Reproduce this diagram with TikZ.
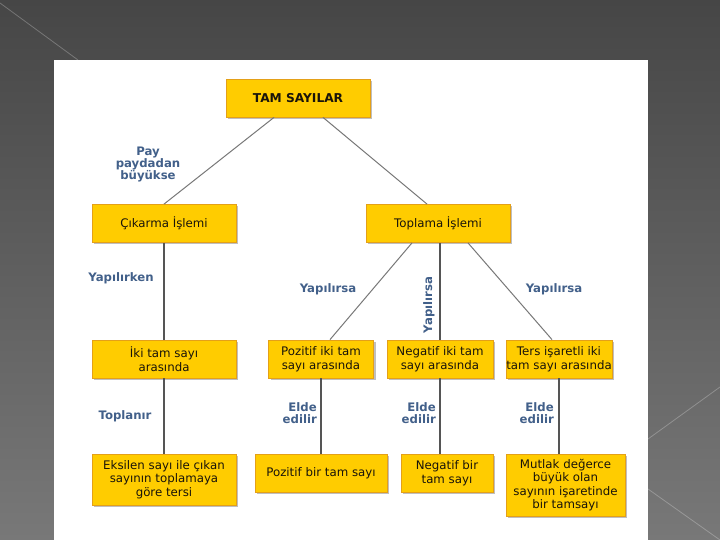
\documentclass[tikz,border=0pt]{standalone}
\usepackage{fontspec}
\setmainfont{DejaVu Sans}
\usetikzlibrary{shadows}
\definecolor{boxfill}{RGB}{255,204,0}
\definecolor{boxdraw}{RGB}{228,160,24}
\definecolor{boxtext}{RGB}{25,20,10}
\definecolor{lblcol}{RGB}{66,96,138}
\definecolor{linecol}{RGB}{85,85,85}
\definecolor{diagcol}{RGB}{120,120,120}
\definecolor{bgtop}{RGB}{70,70,70}
\definecolor{bgbot}{RGB}{120,120,120}
\begin{document}
\begin{tikzpicture}[x=1bp,y=-1bp,
  box/.style={draw=boxdraw, fill=boxfill, line width=0.8bp, inner sep=0pt, align=center,
    text=boxtext, font=\fontsize{11.8bp}{13.6bp}\selectfont,
    drop shadow={shadow xshift=2bp, shadow yshift=-2bp, fill=black, opacity=0.25}},
  lbl/.style={text=lblcol, font=\fontsize{11.7bp}{12bp}\bfseries\selectfont, align=center, inner sep=0pt},
  conn/.style={draw=linecol, line width=1.4bp},
  diag/.style={draw=diagcol, line width=1bp}]
\useasboundingbox (0,0) rectangle (720,540);
% background
\shade[top color=bgtop, bottom color=bgbot] (0,0) rectangle (720,540);
\draw[white, opacity=0.25, line width=0.8bp] (0,3) -- (78,60);
\draw[white, opacity=0.25, line width=0.8bp] (720,387) -- (648,439);
\draw[white, opacity=0.25, line width=0.8bp] (648,489) -- (720,540);
\fill[white] (54,60) rectangle (648,540);

% boxes
\node[box, minimum width=144bp, minimum height=38bp, font=\fontsize{12.2bp}{14bp}\bfseries\selectfont] (tam) at (298,98) {TAM SAYILAR};
\node[box, minimum width=144bp, minimum height=38bp] (cik) at (164,223.5) {Çıkarma İşlemi};
\node[box, minimum width=144bp, minimum height=38bp] (top) at (438,223.5) {Toplama İşlemi};

\node[box, minimum width=144bp, minimum height=38bp] (iki) at (164,359) {İki tam sayı\\arasında};
\node[box, minimum width=105bp, minimum height=38bp] (pozi) at (321,359) {Pozitif iki tam\\sayı arasında};
\node[box, minimum width=106bp, minimum height=38bp] (negi) at (440,359) {Negatif iki tam\\sayı arasında};
\node[box, minimum width=106bp, minimum height=38bp] (ters) at (559,359) {\makebox[0pt][c]{Ters işaretli iki}\\\makebox[0pt][c]{tam sayı arasında}};

\node[box, minimum width=144bp, minimum height=51bp] (eks) at (164,479.5) {Eksilen sayı ile çıkan\\sayının toplamaya\\göre tersi};
\node[box, minimum width=132bp, minimum height=38bp] (pozb) at (321,473) {Pozitif bir tam sayı};
\node[box, minimum width=92bp, minimum height=38bp] (negb) at (447,473) {Negatif bir\\tam sayı};
\node[box, minimum width=119bp, minimum height=62bp] (mut) at (565.5,485) {Mutlak değerce\\büyük olan\\sayının işaretinde\\bir tamsayı};

% connectors
\draw[diag] ([xshift=-24bp]tam.south) -- (cik.north);
\draw[diag] ([xshift=25bp]tam.south) -- ([xshift=-11bp]top.north);
\draw[conn] (cik.south) -- (iki.north);
\draw[conn] (iki.south) -- (eks.north);
\draw[diag] ([xshift=-26bp]top.south) -- ([xshift=9bp]pozi.north);
\draw[conn] (negi.north) -- (negi.north |- top.south);
\draw[diag] ([xshift=30bp]top.south) -- ([xshift=-7bp]ters.north);
\draw[conn] (pozi.south) -- (pozb.north);
\draw[conn] (negi.south) -- (negi.south |- negb.north);
\draw[conn] (ters.south) -- (ters.south |- mut.north);

% labels
\node[lbl] (pay) at (148,164) {Pay\\paydadan\\büyükse};
\node[lbl] (yk) at (121,278) {Yapılırken};
\node[lbl] (yl) at (328,289) {Yapılırsa};
\node[lbl, rotate=90] (ym) at (429,305) {Yapılırsa};
\node[lbl] (yr) at (554,289) {Yapılırsa};
\node[lbl] (tp) at (125,416) {Toplanır};
\node[lbl, align=right, anchor=east] (e1) at (317,413) {Elde\\edilir};
\node[lbl, align=right, anchor=east] (e2) at (436,413) {Elde\\edilir};
\node[lbl, align=right, anchor=east] (e3) at (554,413) {Elde\\edilir};
\end{tikzpicture}
\end{document}
